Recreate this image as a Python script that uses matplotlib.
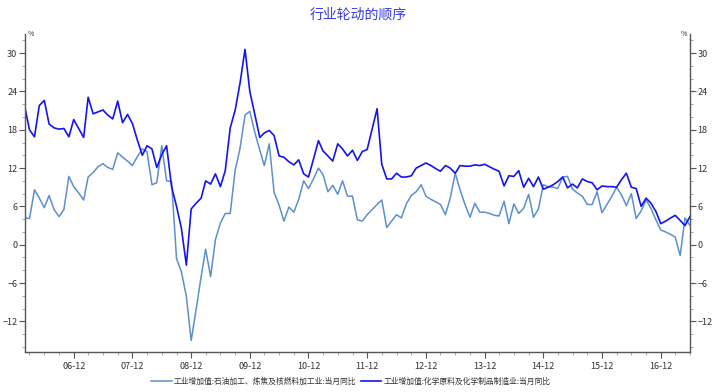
import numpy as np
import pandas as pd
import matplotlib
matplotlib.use("Agg")
import matplotlib.pyplot as plt
import matplotlib.dates as mdates
from matplotlib.ticker import MultipleLocator

plt.rcParams['font.family'] = ['Noto Sans CJK SC', 'DejaVu Sans']

# ---------------- data (monthly, 2006-02 .. 2017-06) ----------------
months = pd.date_range("2006-02-01", "2017-06-01", freq="MS")

petro = [
    4.2, 4.1, 8.6, 7.3, 5.8, 7.7, 5.5, 4.4, 5.5, 10.7,
    9.1, 8.1, 7.0, 10.6, 11.3, 12.2, 12.7, 12.1, 11.8, 14.4,
    13.7, 13.1, 12.4, 13.8, 15.0, 14.6, 9.4, 9.7, 15.5, 10.0,
    9.9, -2.2, -4.2, -8.1, -15.0, -10.1, -5.0, -0.7, -5.0, 0.8,
    3.4, 4.9, 4.9, 11.7, 15.1, 20.3, 20.9, 17.6, 14.8, 12.4,
    15.8, 8.2, 6.2, 3.7, 5.9, 5.1, 7.1, 10.0, 8.8, 10.3,
    12.0, 11.0, 8.3, 9.3, 7.9, 10.0, 7.6, 7.6, 3.9, 3.7,
    4.7, 5.5, 6.3, 7.0, 2.7, 3.7, 4.7, 4.2, 6.4, 7.7,
    8.3, 9.4, 7.6, 7.1, 6.7, 6.3, 4.7, 7.3, 11.2, 8.6,
    6.3, 4.3, 6.5, 5.1, 5.1, 4.9, 4.6, 4.5, 6.8, 3.3,
    6.4, 4.9, 5.7, 7.9, 4.3, 5.6, 9.4, 9.1, 9.0, 8.8,
    10.6, 10.7, 8.7, 8.1, 7.6, 6.3, 6.3, 8.3, 5.0, 6.3,
    7.6, 9.0, 7.8, 6.1, 8.0, 4.1, 5.3, 7.0, 5.7, 3.9,
    2.3, 2.0, 1.6, 1.2, -1.7, 4.2, 3.0,
]

chem = [
    21.4, 18.0, 16.9, 21.8, 22.6, 18.9, 18.3, 18.1, 18.2, 16.9,
    19.6, 18.2, 16.8, 23.1, 20.5, 20.8, 21.1, 20.3, 19.7, 22.5,
    19.1, 20.4, 19.0, 16.4, 14.0, 15.5, 15.0, 12.1, 14.1, 15.5,
    9.1, 6.0, 2.6, -3.2, 5.6, 6.5, 7.3, 10.0, 9.5, 11.1,
    9.1, 11.6, 18.3, 21.1, 25.3, 30.6, 24.0, 20.4, 16.8, 17.5,
    17.9, 17.1, 13.9, 13.7, 13.0, 12.5, 13.3, 11.1, 10.6, 13.4,
    16.3, 14.7, 13.9, 13.1, 15.8, 15.0, 13.9, 14.8, 13.2, 14.6,
    14.9, 18.1, 21.3, 12.6, 10.3, 10.3, 11.2, 10.6, 10.6, 10.8,
    12.0, 12.4, 12.8, 12.4, 11.9, 11.5, 12.4, 12.0, 11.2, 12.4,
    12.3, 12.3, 12.5, 12.4, 12.6, 12.2, 11.8, 11.5, 9.2, 10.8,
    10.7, 11.6, 9.0, 10.4, 9.1, 10.6, 8.7, 9.0, 9.4, 9.9,
    10.6, 8.9, 9.5, 8.9, 10.3, 9.9, 9.7, 8.6, 9.2, 9.1,
    9.1, 9.0, 10.2, 11.2, 9.0, 8.8, 6.0, 7.3, 6.5, 5.2,
    3.3, 3.7, 4.2, 4.6, 3.8, 3.0, 4.4,
]

label_petro = "工业增加值:石油加工、炼焦及核燃料加工业:当月同比"
label_chem = "工业增加值:化学原料及化学制品制造业:当月同比"
title = "行业轮动的顺序"

# ---------------- figure ----------------
W, H = 714, 392
fig = plt.figure(figsize=(W / 100, H / 100), dpi=100)
x0, x1, y0, y1 = 25, 690, 34, 352
ax = fig.add_axes([x0 / W, 1 - y1 / H, (x1 - x0) / W, (y1 - y0) / H])

ax.plot(months, petro, color="#5b8fd0", lw=1.1, label=label_petro)
ax.plot(months, chem, color="#1414f0", lw=1.2, label=label_chem)

ax.set_xlim(months[0], months[-1])
ax.set_ylim(-16.8, 33.0)

# axes styling
gray = "#555555"
for s in ["left", "right", "bottom"]:
    ax.spines[s].set_color(gray)
    ax.spines[s].set_linewidth(1.0)
ax.spines["top"].set_visible(False)

ax.yaxis.set_major_locator(MultipleLocator(6))
ax.yaxis.set_minor_locator(MultipleLocator(2))
ax.yaxis.set_ticks_position("both")
ax.tick_params(axis="y", which="major", direction="out", length=4, color=gray,
               labelsize=6.5, labelcolor="#333333", labelright=True, pad=1.5)
ax.tick_params(axis="y", which="minor", direction="out", length=2, color="#999999")
ax.set_yticks([-12, -6, 0, 6, 12, 18, 24, 30])

ax.xaxis.set_major_locator(mdates.MonthLocator(bymonth=[12]))
ax.xaxis.set_minor_locator(mdates.MonthLocator(bymonth=[3, 6, 9]))
ax.xaxis.set_major_formatter(mdates.DateFormatter("%y-%m"))
ax.tick_params(axis="x", which="major", direction="out", length=4, color=gray,
               labelsize=6.5, labelcolor="#333333", pad=3)
ax.tick_params(axis="x", which="minor", direction="out", length=2, color="#999999")

# % unit markers
ax.text(0.004, 1.0, "%", transform=ax.transAxes, fontsize=5, color="#333333",
        ha="left", va="center")
ax.text(0.996, 1.0, "%", transform=ax.transAxes, fontsize=5, color="#333333",
        ha="right", va="center")

fig.text(358 / W, 1 - 15 / H, title, color="#3a3af0", fontsize=10,
         ha="center", va="center")

fig.legend(loc="center", bbox_to_anchor=(351 / W, 1 - 382 / H), ncol=2,
           frameon=False, fontsize=5.6, handlelength=2.6, handletextpad=0.3,
           columnspacing=0.6, labelcolor="#333333")

fig.savefig("out.png", dpi=100)
